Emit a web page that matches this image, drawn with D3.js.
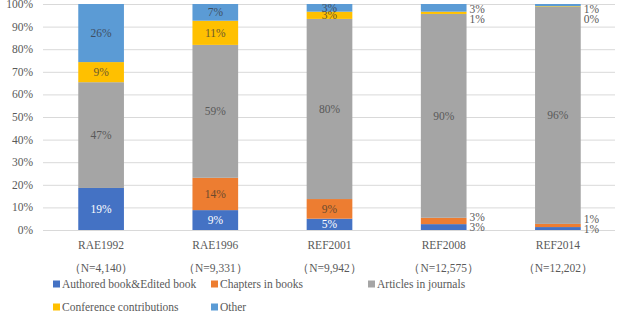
<!DOCTYPE html>
<html>
<head>
<meta charset="utf-8">
<script src="https://cdn.jsdelivr.net/npm/d3@7"></script>
<style>
  body { margin: 0; background: #fff; }
  .grid line { stroke: #d9d9d9; }
  .grid .domain { display: none; }
</style>
</head>
<body>
<div id="chart"></div>
<script>
const categories = ["RAE1992", "RAE1996", "REF2001", "REF2008", "REF2014"];
const sampleSizes = ["（N=4,140）", "（N=9,331）", "（N=9,942）", "（N=12,575）", "（N=12,202）"];
const seriesNames = ["Authored book&Edited book", "Chapters in books", "Articles in journals", "Conference contributions", "Other"];
// percent of outputs, bottom to top
const authored = [18.6, 8.8, 5.0, 2.6, 1.3];
const chapters = [0, 14.3, 8.7, 2.8, 1.4];
const articles = [46.8, 58.8, 79.7, 90.2, 96.0];
const conference = [8.9, 10.7, 3.2, 1.0, 0.3];
const other = [25.7, 7.4, 3.4, 3.4, 1.0];
const yTicks = [0, 10, 20, 30, 40, 50, 60, 70, 80, 90, 100];
const outsideLabelCats = ["REF2008", "REF2014"];

const colors = ["#4472C4", "#ED7D31", "#A5A5A5", "#FFC000", "#5B9BD5"];
const labelColors = ["#ffffff", "#6b4a2e", "#595959", "#6b5a2e", "#3f4f63"];
const FONT = "'Liberation Serif', 'Times New Roman', serif";
const FS = 11.5;

const W = 618, H = 323;
const margin = { top: 4, left: 43, right: 3, bottom: 93 };
const width = W - margin.left - margin.right;
const height = H - margin.top - margin.bottom;

const data = categories.map((c, i) => ({
  cat: c,
  n: sampleSizes[i],
  s0: authored[i], s1: chapters[i], s2: articles[i], s3: conference[i], s4: other[i]
}));
const keys = ["s0", "s1", "s2", "s3", "s4"];

const svg = d3.select("#chart")
  .append("svg")
  .attr("width", W)
  .attr("height", H)
  .attr("font-family", FONT)
  .attr("fill", "#595959");

const chart = svg.append("g")
  .attr("transform", `translate(${margin.left},${margin.top})`);

const xScale = d3.scaleBand()
  .domain(categories)
  .range([1, width])
  .paddingInner(0.6)
  .paddingOuter(0.3);

const yScale = d3.scaleLinear()
  .domain([0, 100])
  .range([height, 0]);

// grid
chart.append("g")
  .attr("class", "grid")
  .call(d3.axisLeft(yScale).tickValues(yTicks).tickSize(-width).tickFormat(""));

// y tick labels
chart.append("g")
  .selectAll("text")
  .data(yTicks)
  .enter()
  .append("text")
  .attr("x", -10)
  .attr("y", d => yScale(d))
  .attr("dy", "0.35em")
  .attr("text-anchor", "end")
  .attr("font-size", FS)
  .text(d => d + "%");

const stacked = d3.stack().keys(keys)(data);

const layers = chart.selectAll(".layer")
  .data(stacked)
  .enter()
  .append("g")
  .attr("class", "layer")
  .attr("fill", (d, i) => colors[i]);

layers.selectAll("rect")
  .data(d => d)
  .enter()
  .append("rect")
  .attr("x", d => xScale(d.data.cat))
  .attr("y", d => yScale(d[1]))
  .attr("width", xScale.bandwidth())
  .attr("height", d => yScale(d[0]) - yScale(d[1]));

// data labels
const labels = [];
stacked.forEach((layer, si) => {
  layer.forEach(d => {
    const v = d[1] - d[0];
    if (v <= 0) return;
    const outside = outsideLabelCats.includes(d.data.cat) && si !== 2;
    labels.push({
      text: Math.round(v) + "%",
      x: outside ? xScale(d.data.cat) + xScale.bandwidth() + 3 : xScale(d.data.cat) + xScale.bandwidth() / 2,
      y: yScale((d[0] + d[1]) / 2),
      anchor: outside ? "start" : "middle",
      color: outside ? "#595959" : labelColors[si],
      outside,
      cat: d.data.cat,
      top: si > 2
    });
  });
});

// keep outside labels from overlapping
categories.forEach(c => {
  const top = labels.filter(l => l.cat === c && l.outside && l.top).sort((a, b) => a.y - b.y);
  if (top.length) top[0].y = Math.max(top[0].y, 5);
  for (let i = 1; i < top.length; i++) {
    if (top[i].y - top[i - 1].y < 10) top[i].y = top[i - 1].y + 10;
  }
  const bottom = labels.filter(l => l.cat === c && l.outside && !l.top).sort((a, b) => b.y - a.y);
  for (let i = 1; i < bottom.length; i++) {
    if (bottom[i - 1].y - bottom[i].y < 10) bottom[i].y = bottom[i - 1].y - 10;
  }
});

chart.append("g")
  .selectAll("text")
  .data(labels)
  .enter()
  .append("text")
  .attr("x", d => d.x)
  .attr("y", d => d.y)
  .attr("dy", "0.35em")
  .attr("text-anchor", d => d.anchor)
  .attr("font-size", FS)
  .attr("fill", d => d.color)
  .text(d => d.text);

// category labels
const xLabels = chart.append("g")
  .attr("transform", `translate(0, ${height})`)
  .selectAll("g")
  .data(data)
  .enter()
  .append("g")
  .attr("transform", d => `translate(${xScale(d.cat) + xScale.bandwidth() / 2}, 0)`);

xLabels.append("text")
  .attr("y", 15)
  .attr("dy", "0.35em")
  .attr("text-anchor", "middle")
  .attr("font-size", FS)
  .text(d => d.cat);

xLabels.append("text")
  .attr("y", 38)
  .attr("dy", "0.35em")
  .attr("text-anchor", "middle")
  .attr("font-size", FS)
  .text(d => d.n);

// legend
const legendPos = [[53, 284], [211, 284], [368, 284], [53, 307], [211, 307]];
const legend = svg.append("g")
  .selectAll("g")
  .data(seriesNames)
  .enter()
  .append("g")
  .attr("transform", (d, i) => `translate(${legendPos[i][0]}, ${legendPos[i][1]})`);

legend.append("rect")
  .attr("x", 0)
  .attr("y", -3.5)
  .attr("width", 7)
  .attr("height", 7)
  .attr("fill", (d, i) => colors[i]);

legend.append("text")
  .attr("x", 9)
  .attr("y", 0)
  .attr("dy", "0.35em")
  .attr("font-size", FS)
  .text(d => d);
</script>
</body>
</html>
